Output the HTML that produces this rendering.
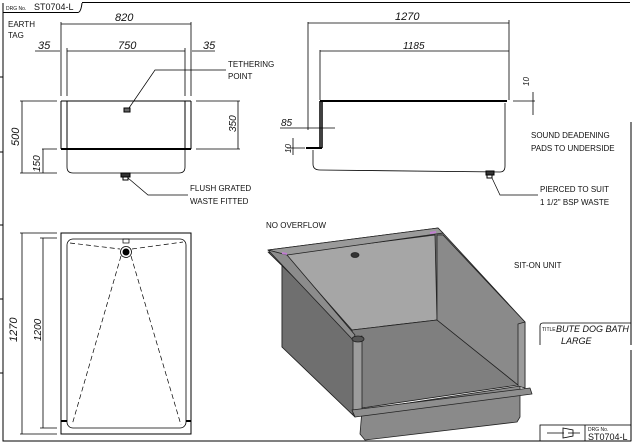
<!DOCTYPE html>
<html><head><meta charset="utf-8"><style>
html,body{margin:0;padding:0;background:#fff}
svg{display:block}
text{font-family:"Liberation Sans",sans-serif;fill:#111}
</style></head><body>
<svg width="634" height="443" viewBox="0 0 634 443" xmlns="http://www.w3.org/2000/svg">
<g stroke="#000" stroke-width="1" fill="none">
<!-- border -->
<path d="M3 3 V441 H631"/>
<path d="M82 2.5 H630"/>
<path d="M631 215 V345"/><path d="M631 122 V215"/><path d="M631 350 V441"/>
<path d="M3 12.5 H78 Q81 12 82 3"/>
<path d="M0 77H3M0 152H3M0 225H3M0 299H3M0 373H3"/>
<!-- front view -->
<g stroke-width="0.8">
<path d="M61 22V96 M67 48V96 M185 48V96 M191 22V96"/>
<path d="M61 24H191 M35 51H60 M67 51H185 M192 51H215"/>
<path d="M20 101H57 M196 101H240 M42 149H57 M196 149H240 M20 173H57"/>
<path d="M22 101V173 M43 149V173 M238 101V149"/>
</g>
<path d="M61 101H191 M61 101V149 M67 101V149 M185 101V149 M191 101V149"/>
<path d="M61 149H191" stroke-width="2"/>
<path d="M67 150V167Q67 173 73 173H179Q185 173 185 167V150" stroke-width="0.8"/>
<rect x="121" y="173" width="9" height="4" fill="#333"/><rect x="123" y="177" width="5" height="3"/>
<rect x="124" y="108" width="6" height="4" fill="#666"/>
<path d="M129 108L155 70H226 M128 178L148 195H188" stroke-width="0.7"/>
<!-- side view -->
<g stroke-width="0.8">
<path d="M308 22V130 M320 50V100 M509 20V100 M308 23H509 M320 51H509"/>
<path d="M280 128H335 M293 138V155 M287 148H305 M533 92V115 M513 101H535"/>
</g>
<path d="M320 101H507" stroke-width="2"/>
<path d="M320 101V148 M322 101V148" stroke-width="1.5"/>
<path d="M306 148H322" stroke-width="2"/>
<path d="M313 150V164Q313 170 320 170L500 172Q505 172 505 166V103" stroke-width="0.8"/>
<rect x="486" y="171" width="8" height="4" fill="#333"/><rect x="487" y="175" width="5" height="3"/>
<path d="M492 178L500 195H538" stroke-width="0.7"/>
<path d="M631 122V220"/>
<!-- plan view -->
<rect x="61" y="233" width="130" height="201" stroke-width="1"/>
<rect x="67" y="239" width="119" height="189" rx="6" stroke-width="0.8"/>
<path d="M61 421H67 M186 421H191" stroke-width="2"/>
<g stroke-width="0.8">
<path d="M22 233V434 M43 238V428 M20 233H57 M40 238H57 M20 434H57 M40 428H57"/>
</g>
<g stroke-width="0.7" stroke-dasharray="5,3">
<path d="M70 243L120 249 M132 249L183 242 M121 256L72 425 M131 256L181 425"/>
</g>
<circle cx="126" cy="252" r="5.5" stroke-width="0.8"/><circle cx="126" cy="252" r="3" fill="#000"/>
<rect x="123" y="239" width="6" height="4" stroke-width="0.7"/>
</g>
<!-- 3D view -->
<g stroke="#222" stroke-width="0.8" stroke-linejoin="round">
<polygon points="362,410 520,386 520,417 517,422 365,440 360,434" fill="#8a8a8a"/>
<polygon points="268,250 438,228 443,233 525,322 525,388 518,385 437,320 352,333 355,337 355,417 282,347 282,255" fill="#7b7b7b"/>
<polygon points="268,252 355,337 355,417 282,347 282,256" fill="#6f6f6f"/>
<polygon points="285,254 435,235 437,320 352,330" fill="#a6a6a6"/>
<polygon points="352,330 437,320 518,385 362,408" fill="#7f7f7f"/>
<polygon points="437,235 443,235 525,322 518,385 437,320" fill="#8a8a8a"/>
<polygon points="268,250 438,228 443,233 287,255" fill="#9a9a9a"/>
<polygon points="268,250 287,255 355,335 353,340" fill="#8c8c8c"/>
<polygon points="353,338 362,336 362,412 353,414" fill="#9c9c9c"/>
<polygon points="518,324 525,322 525,388 518,386" fill="#9c9c9c"/>
<polygon points="352,410 530,388 532,394 355,417" fill="#8e8e8e"/>
<ellipse cx="358" cy="339" rx="6" ry="3" fill="#555"/>
<ellipse cx="355" cy="255" rx="4" ry="2.5" fill="#333"/>
</g>
<path d="M282 253l5 1M430 233l6-1" stroke="#c07ed0" stroke-width="2"/>
<!-- title blocks -->
<g stroke="#000" stroke-width="0.8" fill="none">
<path d="M540 345V326Q540 323 543 323H631"/>
<rect x="540" y="425" width="91" height="16"/>
<path d="M585 425V441 M547 433H564 M568 433H580"/>
<path d="M563 428L573 430V436L563 438Z"/>
</g>
<!-- text -->
<g font-size="8">
<text x="6" y="10" font-size="5">DRG No.</text>
<text x="34" y="10" font-size="9">ST0704-L</text>
<text x="8" y="27">EARTH</text><text x="8" y="38">TAG</text>
<text x="115" y="21" font-size="11" font-style="italic">820</text>
<text x="118" y="49" font-size="11" font-style="italic">750</text>
<text x="38" y="49" font-size="11" font-style="italic">35</text>
<text x="203" y="49" font-size="11" font-style="italic">35</text>
<text x="228" y="67">TETHERING</text><text x="228" y="79">POINT</text>
<text x="190" y="191">FLUSH GRATED</text><text x="190" y="204">WASTE FITTED</text>
<text transform="translate(19,146) rotate(-90)" font-size="11" font-style="italic">500</text>
<text transform="translate(40,172) rotate(-90)" font-size="10" font-style="italic">150</text>
<text transform="translate(236,132) rotate(-90)" font-size="10" font-style="italic">350</text>
<text x="395" y="20" font-size="11" font-style="italic">1270</text>
<text x="403" y="49" font-size="10" font-style="italic">1185</text>
<text x="281" y="126" font-size="10" font-style="italic">85</text>
<text transform="translate(291,153) rotate(-90)" font-size="8" font-style="italic">10</text>
<text transform="translate(529,86) rotate(-90)" font-size="8" font-style="italic">10</text>
<text x="531" y="138">SOUND DEADENING</text><text x="531" y="151">PADS TO UNDERSIDE</text>
<text x="540" y="192">PIERCED TO SUIT</text><text x="540" y="205">1 1/2" BSP WASTE</text>
<text transform="translate(17,342) rotate(-90)" font-size="11" font-style="italic">1270</text>
<text transform="translate(41,341) rotate(-90)" font-size="10" font-style="italic">1200</text>
<text x="266" y="228">NO OVERFLOW</text>
<text x="514" y="268">SIT-ON UNIT</text>
<text x="542" y="331" font-size="5">TITLE</text>
<text x="556" y="332" font-size="9" font-style="italic">BUTE DOG BATH</text>
<text x="561" y="344" font-size="9" font-style="italic">LARGE</text>
<text x="588" y="431" font-size="5">DRG No.</text>
<text x="588" y="440" font-size="9">ST0704-L</text>
</g>
</svg>
</body></html>
